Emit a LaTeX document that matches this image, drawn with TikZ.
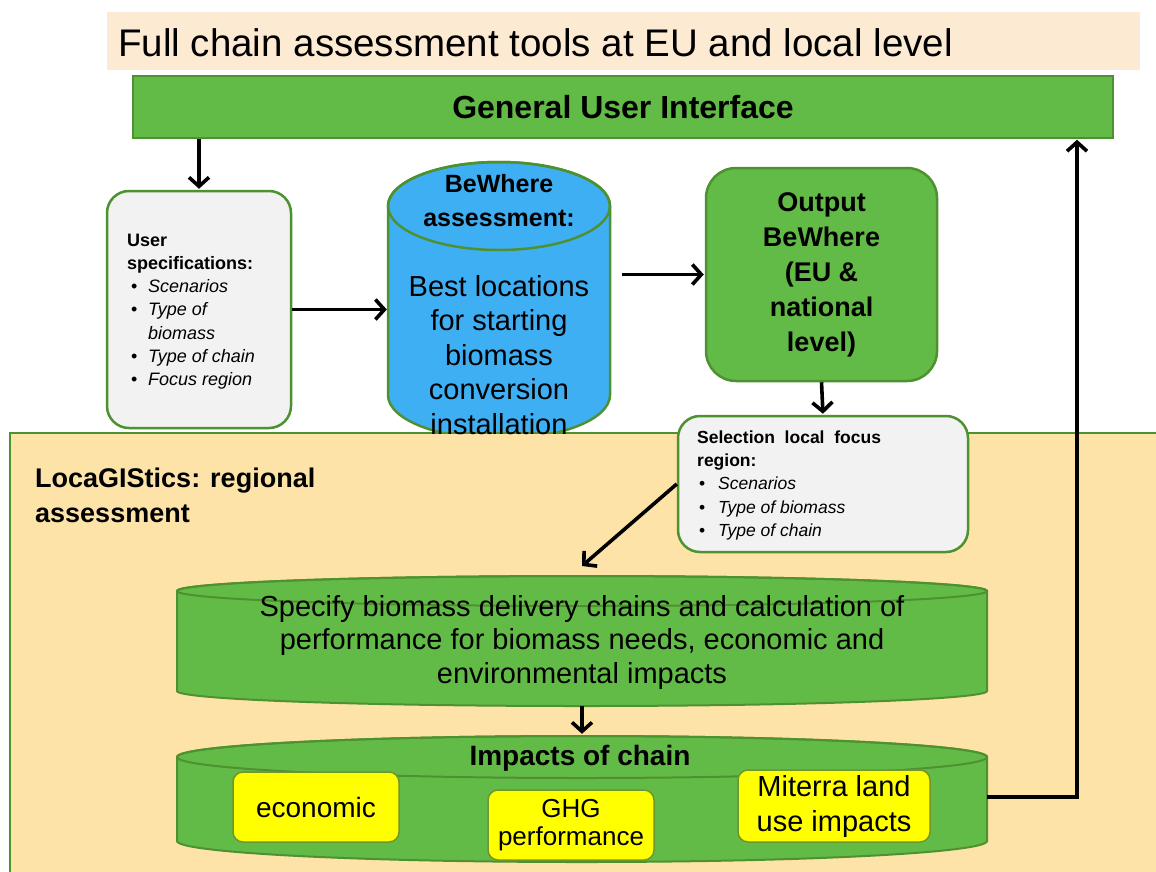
\documentclass[tikz,border=0pt]{standalone}
\usepackage{fontspec}
\setmainfont{Liberation Sans}
\usetikzlibrary{arrows.meta}
\definecolor{gfill}{RGB}{99,187,71}
\definecolor{gline}{RGB}{78,145,48}
\definecolor{bfill}{RGB}{63,175,244}
\definecolor{boxgray}{RGB}{242,242,242}
\definecolor{bandc}{RGB}{253,227,167}
\definecolor{titlec}{RGB}{252,234,210}
\definecolor{yel}{RGB}{255,255,0}
\definecolor{yline}{RGB}{110,150,40}
\newcommand\mybul[2]{\hspace*{#1}\makebox[#2][l]{•}}
\newcommand\myfs[2]{\fontsize{#1}{#2}\selectfont}
\begin{document}
\begin{tikzpicture}[x=1pt,y=-1pt,
  arr/.style={line width=3.6pt, -{Straight Barb[length=9pt,width=20pt]}},
  grayboxstyle/.style={draw=gline, fill=boxgray, line width=2.5pt, rounded corners=22pt, inner sep=0},
  yelbox/.style={draw=yline, fill=yel, line width=1.5pt, rounded corners=10pt, inner sep=0, align=center},
  cylline/.style={draw=gline, line width=2pt}]
\useasboundingbox (0,0) rectangle (1156,871);

% title
\fill[titlec] (107,12) rectangle (1140,70);
\node[anchor=west, inner sep=0, font=\myfs{38.5}{44}] (title) at (118,43) {Full chain assessment tools at EU and local level};

% GUI
\node[draw=gline, fill=gfill, line width=1.5pt, minimum width=980pt, minimum height=62pt, inner sep=0, font=\bfseries\myfs{32}{36}] (gui) at (623,107) {General User Interface};

% user specifications
\node[grayboxstyle, minimum width=184pt, minimum height=237pt] (us) at (199,309.5) {};
\node[anchor=north west, inner sep=0, align=left, font=\myfs{18}{23.3}] (ustxt) at (127,233.5)
 {\textbf{User}\\\textbf{specifications:}\\\mybul{4pt}{17pt}\textit{Scenarios}\\\mybul{4pt}{17pt}\textit{Type of}\\\hspace*{21pt}\textit{biomass}\\\mybul{4pt}{17pt}\textit{Type of chain}\\\mybul{4pt}{17pt}\textit{Focus region}};

% BeWhere cylinder
\node[minimum width=222pt, minimum height=277pt, inner sep=0] (bw) at (499,300.5) {};
\filldraw[fill=bfill, cylline, line width=2.5pt] (388,206) -- (388,395) arc[start angle=180,end angle=360,x radius=111pt,y radius=44pt] -- (610,206) arc[start angle=0,end angle=180,x radius=111pt,y radius=44pt] -- cycle;
\draw[cylline, line width=2.5pt] (499,206) ellipse[x radius=111pt, y radius=44pt];

% band
\fill[bandc] (10,433) rectangle (1170,890);
\draw[gline, line width=2pt] (1170,433) -- (10,433) -- (10,890);

\node[font=\bfseries\myfs{25}{34}, align=center, inner sep=0] (bwtitle) at (499,201) {BeWhere\\assessment:};
\node[font=\myfs{29}{34.5}, align=center, inner sep=0] (bwbody) at (499,355) {Best locations\\for starting\\biomass\\conversion\\installation};

% output
\node[draw=gline, fill=gfill, line width=2.5pt, rounded corners=30pt, minimum width=231pt, minimum height=213pt, inner sep=0, align=center, font=\bfseries\myfs{27}{35}] (out) at (821.5,274.5) {Output\\BeWhere\\(EU \&\\national\\level)};

% selection
\node[grayboxstyle, minimum width=290pt, minimum height=136pt] (sel) at (823,484) {};
\node[anchor=north west, inner sep=0, align=left, font=\myfs{17.5}{23.3}] (seltxt) at (697,430.5)
 {\textbf{Selection\ \ local\ \ focus}\\\textbf{region:}\\\mybul{2pt}{19pt}\textit{Scenarios}\\\mybul{2pt}{19pt}\textit{Type of biomass}\\\mybul{2pt}{19pt}\textit{Type of chain}};

\node[anchor=north west, inner sep=0, align=left, font=\bfseries\myfs{27}{35}] (loca) at (35,468) {LocaGIStics: regional\\assessment};

% specify cylinder
\node[minimum width=810pt, minimum height=130pt, inner sep=0] (spec) at (582,641) {};
\filldraw[fill=gfill, cylline] (177,591) -- (177,691) arc[start angle=180,end angle=360,x radius=405pt,y radius=15pt] -- (987,591) arc[start angle=0,end angle=180,x radius=405pt,y radius=15pt] -- cycle;
\draw[cylline] (582,591) ellipse[x radius=405pt, y radius=15pt];
\node[font=\myfs{29}{33.5}, align=center, inner sep=0] (spectxt) at (582,642) {Specify biomass delivery\ chains and calculation of\\performance for biomass needs, economic and\\environmental impacts};

% impacts cylinder
\node[minimum width=810pt, minimum height=126pt, inner sep=0] (imp) at (582,799) {};
\filldraw[fill=gfill, cylline] (177,757) -- (177,841) arc[start angle=180,end angle=360,x radius=405pt,y radius=21pt] -- (987,757) arc[start angle=0,end angle=180,x radius=405pt,y radius=21pt] -- cycle;
\draw[cylline] (582,757) ellipse[x radius=405pt, y radius=21pt];
\node[font=\bfseries\myfs{28}{32}, inner sep=0] (imptxt) at (580,758) {Impacts of chain};

\node[yelbox, minimum width=166pt, minimum height=70pt, font=\myfs{28}{34}] (eco) at (316,807) {economic};
\node[yelbox, minimum width=166pt, minimum height=70pt, font=\myfs{26}{28}] (ghg) at (571,825) {GHG\\performance};
\node[yelbox, minimum width=192pt, minimum height=72pt, font=\myfs{29}{35}] (mit) at (834,806) {Miterra land\\use impacts};

% connectors
\coordinate (turn) at (1077,797);
\coordinate (spectop) at (582,566);
\draw[arr, shorten >=1pt] (us.north |- gui.south) -- (us.north);
\draw[arr, shorten >=1pt] (us.east) -- (us.east -| bw.west);
\draw[arr, shorten <=12pt, shorten >=1pt] (out.west -| bw.east) -- (out.west);
\draw[arr, shorten >=1pt] (out.south) -- (sel.north);
\draw[arr] (sel.west) -- (spectop);
\draw[arr, shorten >=2pt] (spec.south) -- (imp.north);
\draw[arr, shorten >=1pt] (imp.east |- turn) -- (turn) -- (turn |- gui.south);
\end{tikzpicture}
\end{document}
